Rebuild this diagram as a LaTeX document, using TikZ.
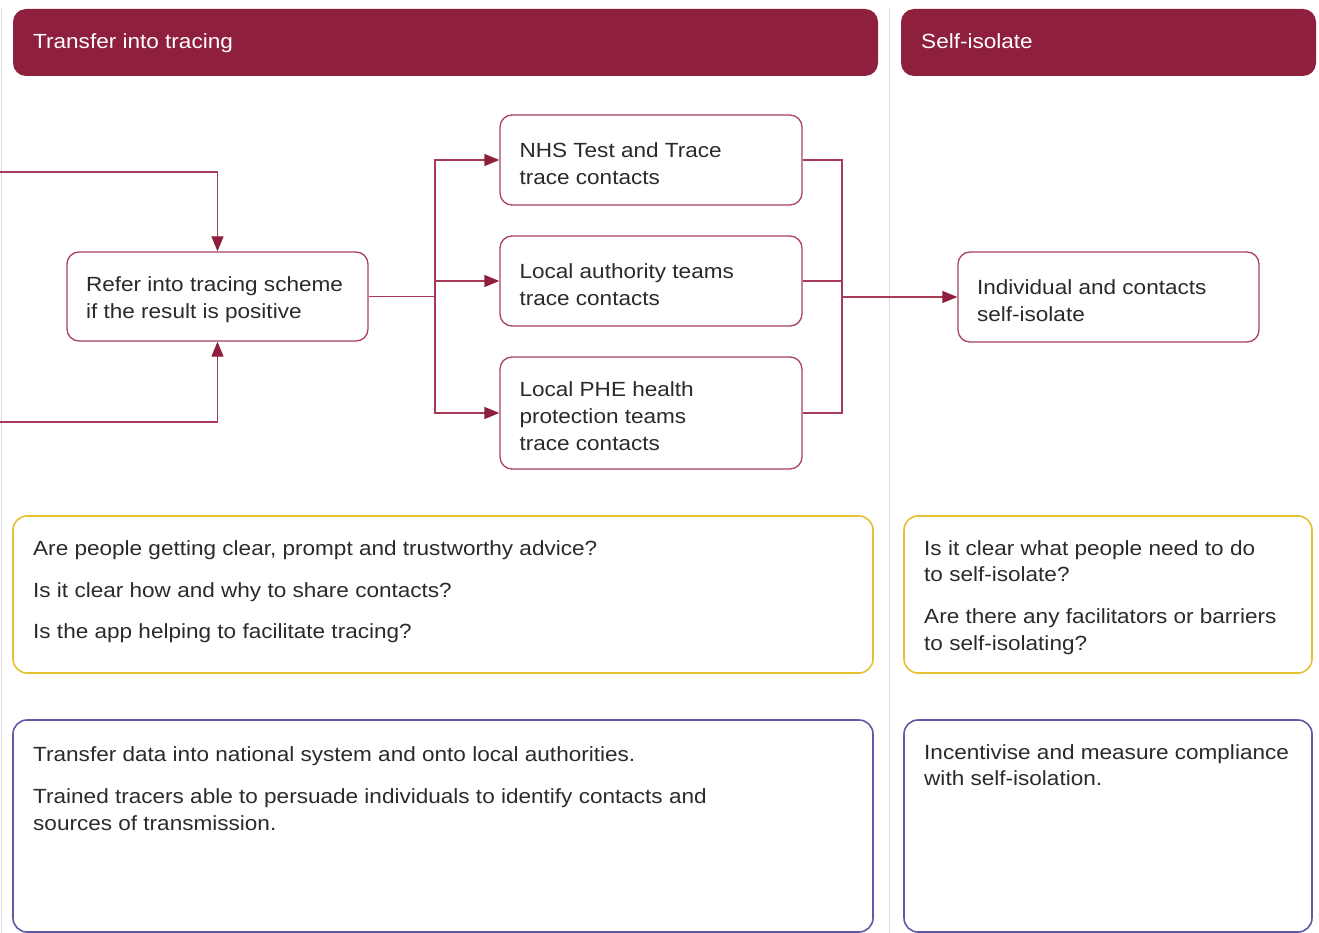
\documentclass[tikz,border=0pt]{standalone}
\usepackage{fontspec}
\setmainfont[FakeStretch=1.1]{Liberation Sans}
\usetikzlibrary{arrows.meta}
\definecolor{hdrred}{HTML}{8E1F3D}
\definecolor{boxred}{HTML}{A8425D}
\definecolor{wirered}{HTML}{A63A57}
\definecolor{qyellow}{HTML}{E5C030}
\definecolor{qpurple}{HTML}{5E5AA6}
\definecolor{txt}{HTML}{2A2A2A}
\definecolor{sep}{HTML}{DADADA}
\tikzset{
  every node/.style={font=\fontsize{20.5}{27}\selectfont, text=txt},
  hdrbox/.style={fill=hdrred, rounded corners=13pt, inner sep=0pt},
  hdrtext/.style={anchor=base west, inner sep=0pt, text=white},
  flowbox/.style={draw=boxred, line width=1.3pt, rounded corners=12pt, fill=white, inner sep=0pt},
  flowtext/.style={anchor=west, align=left, inner sep=0pt},
  qbox/.style={draw=#1, line width=1.6pt, rounded corners=14pt, inner sep=0pt},
  qtext/.style={anchor=base west, inner sep=0pt},
  wire/.style={draw=wirered, line width=1.3pt},
  arrowwire/.style={wire, -{Triangle[length=15pt,width=12pt,fill=hdrred,color=hdrred]}},
}
\begin{document}
\begin{tikzpicture}[x=1pt,y=-1pt]
\useasboundingbox (0,0) rectangle (1319,933);
% separators
\draw[sep, line width=1pt] (1.5,8) -- (1.5,933);
\draw[sep, line width=1pt] (889.5,8) -- (889.5,933);
% headers
\node[hdrbox, minimum width=865pt, minimum height=67pt] (h1) at (445.5,42.5) {};
\node[hdrtext] (h1t) at (33,49) {Transfer into tracing};
\node[hdrbox, minimum width=415pt, minimum height=67pt] (h2) at (1108.5,42.5) {};
\node[hdrtext] (h2t) at (921,49) {Self-isolate};
% flow boxes
\node[flowbox, minimum width=301pt, minimum height=89pt] (refer) at (217.5,296.5) {};
\node[flowbox, minimum width=302pt, minimum height=90pt] (nhs) at (651,160) {};
\node[flowbox, minimum width=302pt, minimum height=90pt] (la) at (651,281) {};
\node[flowbox, minimum width=302pt, minimum height=112pt] (phe) at (651,413) {};
\node[flowbox, minimum width=301pt, minimum height=90pt] (ind) at (1108.5,297) {};
\node[flowtext] (refer-t) at ([xshift=19.5pt,yshift=-3.5pt]refer.west) {Refer into tracing scheme\\if the result is positive};
\node[flowtext] (nhs-t) at ([xshift=20pt,yshift=-3.5pt]nhs.west) {NHS Test and Trace\\trace contacts};
\node[flowtext] (la-t) at ([xshift=20pt,yshift=-3.5pt]la.west) {Local authority teams\\trace contacts};
\node[flowtext] (phe-t) at ([xshift=20pt,yshift=-3.5pt]phe.west) {Local PHE health\\protection teams\\trace contacts};
\node[flowtext] (ind-t) at ([xshift=19.5pt,yshift=-3.5pt]ind.west) {Individual and contacts\\self-isolate};
% connectors
\coordinate (inTop) at (0,172);
\coordinate (inBot) at (0,422);
\coordinate (busL) at (435,296.5);
\coordinate (busR) at (842,297);
\draw[arrowwire] (inTop) -| (refer.north);
\draw[arrowwire] (inBot) -| (refer.south);
\draw[wire] (refer.east) -- (busL);
\draw[arrowwire] (busL) |- (nhs.west);
\draw[arrowwire] (busL) |- (phe.west);
\draw[arrowwire] (busL |- la.west) -- (la.west);
\draw[wire] (nhs.east) -| (busR);
\draw[wire] (phe.east) -| (busR);
\draw[wire] (la.east) -- (busR |- la.east);
\draw[arrowwire] (busR) -- (ind.west);
% question boxes
\node[qbox=qyellow, minimum width=860pt, minimum height=157pt] (q1) at (443,594.5) {};
\node[qbox=qyellow, minimum width=408pt, minimum height=157pt] (q2) at (1108,594.5) {};
\node[qbox=qpurple, minimum width=860pt, minimum height=212pt] (a1) at (443,826) {};
\node[qbox=qpurple, minimum width=408pt, minimum height=212pt] (a2) at (1108,826) {};
% question texts
\node[qtext] (q1a) at (33,555) {Are people getting clear, prompt and trustworthy advice?};
\node[qtext] (q1b) at (33,597) {Is it clear how and why to share contacts?};
\node[qtext] (q1c) at (33,638) {Is the app helping to facilitate tracing?};
\node[qtext] (q2a) at (924,555) {Is it clear what people need to do};
\node[qtext] (q2b) at (924,581) {to self-isolate?};
\node[qtext] (q2c) at (924,623) {Are there any facilitators or barriers};
\node[qtext] (q2d) at (924,650) {to self-isolating?};
% action texts
\node[qtext] (a1a) at (33,761) {Transfer data into national system and onto local authorities.};
\node[qtext] (a1b) at (33,803) {Trained tracers able to persuade individuals to identify contacts and};
\node[qtext] (a1c) at (33,830) {sources of transmission.};
\node[qtext] (a2a) at (924,759) {Incentivise and measure compliance};
\node[qtext] (a2b) at (924,785) {with self-isolation.};
\end{tikzpicture}
\end{document}
